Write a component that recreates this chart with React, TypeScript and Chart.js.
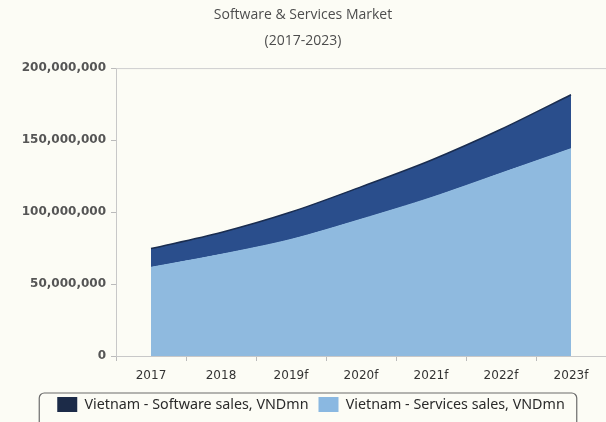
import React, { useEffect, useRef } from "react";
import { Chart, registerables } from "chart.js";

Chart.register(...registerables);

const categories = ["2017", "2018", "2019f", "2020f", "2021f", "2022f", "2023f"];
const servicesSales = [61600000, 70600000, 81000000, 95000000, 110000000, 127000000, 144000000];
const softwareSales = [13000000, 15200000, 19000000, 22500000, 26000000, 30500000, 37500000];
const yTicks = [0, 50000000, 100000000, 150000000, 200000000];
const titleLines = ["Software & Services Market", "(2017-2023)"];
const seriesNames = ["Vietnam - Services sales, VNDmn", "Vietnam - Software sales, VNDmn"];

const BG = "#fcfcf5";

const legendShift = {
  id: "legendShift",
  afterLayout(chart: any) {
    const lg = chart.legend;
    if (!lg) return;
    lg.left += 8;
    lg.right += 8;
  },
};

const legendBorder = {
  id: "legendBorder",
  afterDraw(chart: any) {
    const lg = chart.legend;
    if (!lg || !lg.legendHitBoxes || !lg.legendHitBoxes.length) return;
    const boxes = lg.legendHitBoxes;
    let l = Infinity, r = -Infinity, t = Infinity, b = -Infinity;
    boxes.forEach((h: any) => {
      l = Math.min(l, h.left);
      r = Math.max(r, h.left + h.width);
      t = Math.min(t, h.top);
      b = Math.max(b, h.top + h.height);
    });
    const ctx = chart.ctx;
    ctx.save();
    ctx.strokeStyle = "#6b6b6b";
    ctx.lineWidth = 1.2;
    ctx.beginPath();
    (ctx as any).roundRect(l - 18, t - 4, r - l + 30, b - t + 20, 5);
    ctx.stroke();
    ctx.restore();
  },
};

const topLine = {
  id: "topLine",
  beforeDatasetsDraw(chart: any) {
    const { ctx, chartArea } = chart;
    ctx.save();
    ctx.strokeStyle = "#cfcfcf";
    ctx.lineWidth = 1;
    ctx.beginPath();
    ctx.moveTo(chartArea.left, chartArea.top + 0.5);
    ctx.lineTo(chartArea.right, chartArea.top + 0.5);
    ctx.stroke();
    ctx.restore();
  },
};

export default function App() {
  const ref = useRef<HTMLCanvasElement | null>(null);
  useEffect(() => {
    document.body.style.background = BG;
    const canvas = ref.current!;
    const chart = new Chart(canvas, {
      type: "line",
      data: {
        labels: categories,
        datasets: [
          {
            label: seriesNames[0],
            data: servicesSales,
            backgroundColor: "#8fbadf",
            borderColor: "#8fbadf",
            borderWidth: 1,
            fill: "origin",
            pointRadius: 0,
            tension: 0.3,
          },
          {
            label: seriesNames[1],
            data: softwareSales,
            backgroundColor: "#2a4e8c",
            borderColor: "#1a2d50",
            borderWidth: 1.5,
            fill: "-1",
            pointRadius: 0,
            tension: 0.3,
          },
        ],
      },
      options: {
        animation: false,
        responsive: false,
        layout: { padding: { left: 0, right: 0, top: 0, bottom: 0 } },
        plugins: {
          tooltip: { enabled: false },
          title: {
            display: true,
            text: titleLines,
            color: "#4d4d4d",
            font: { family: "Open Sans", size: 14, weight: "normal", lineHeight: 1.86 },
            padding: { top: 2, bottom: 14 },
          },
          legend: {
            position: "bottom",
            reverse: true,
            labels: {
              boxWidth: 20,
              boxHeight: 15,
              padding: 10,
              color: "#2a2a2a",
              font: { family: "Noto Sans", size: 14.3 },
              generateLabels: (chart: any) => {
                const cols = ["#8ab8e1", "#1c2b48"];
                return chart.data.datasets.map((ds: any, i: number) => ({
                  text: ds.label,
                  fillStyle: cols[i],
                  strokeStyle: cols[i],
                  lineWidth: 0,
                  hidden: false,
                  datasetIndex: i,
                  fontColor: "#2a2a2a",
                }));
              },
            },
          },
        },
        scales: {
          x: {
            offset: true,
            afterFit: (s: any) => {
              s.height = 31;
            },
            grid: {
              offset: true,
              drawOnChartArea: false,
              drawTicks: true,
              tickLength: 5,
              tickColor: "#bbbbbb",
            },
            border: { color: "#c8c8c8" },
            ticks: {
              color: "#333333",
              padding: 8,
              font: { family: "DejaVu Sans", size: 12 },
              maxRotation: 0,
              autoSkip: false,
            },
          },
          y: {
            stacked: true,
            min: 0,
            max: 200000000,
            afterFit: (s: any) => {
              s.width = 116;
            },
            afterBuildTicks: (s: any) => {
              s.ticks = yTicks.map((v) => ({ value: v }));
            },
            grid: {
              drawOnChartArea: false,
              drawTicks: true,
              tickLength: 5,
              tickColor: "#bbbbbb",
            },
            border: { color: "#c8c8c8" },
            ticks: {
              color: "#555555",
              padding: 5,
              font: { family: "DejaVu Sans", size: 12, weight: "bold" },
              callback: (v: any) => Number(v).toLocaleString("en-US"),
            },
          },
        },
      },
      plugins: [legendShift, legendBorder, topLine],
    });
    return () => chart.destroy();
  }, []);
  return (
    <div style={{ position: "fixed", left: 0, top: 0, width: 606, height: 422, background: BG }}>
      <canvas ref={ref} width={606} height={422} />
    </div>
  );
}
